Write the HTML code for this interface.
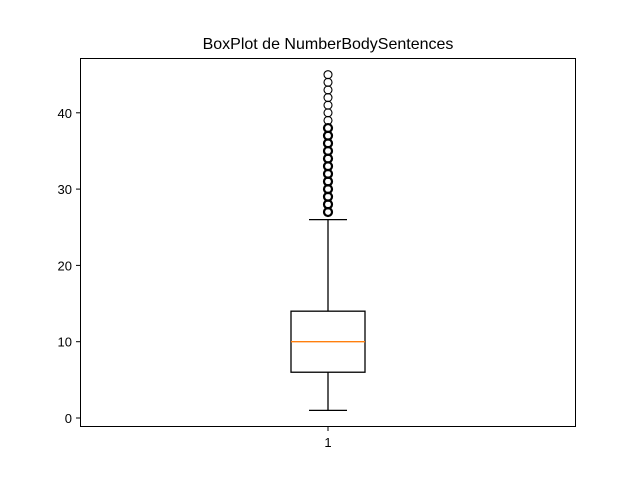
<!DOCTYPE html>
<html><head><meta charset="utf-8"><style>body{margin:0;background:#fff}svg{display:block;font-family:"Liberation Sans","DejaVu Sans",sans-serif}</style></head>
<body>
<svg width="640" height="480">
<rect x="0" y="0" width="640" height="480" fill="#fff"/>
<text x="328" y="49" text-anchor="middle" font-size="16">BoxPlot de NumberBodySentences</text>
<g id="plot"></g>
<rect x="80.5" y="58.5" width="495" height="368" fill="none" stroke="#000" stroke-width="1"/>
</svg>
<script>
const categories=["1"];
const whiskerLow=[1];
const q1=[6];
const median=[10];
const q3=[14];
const whiskerHigh=[26];
const fliers=[27,28,29,30,31,32,33,34,35,36,37,38,39,40,41,42,43,44,45];
const flierCounts=[9,8,8,8,7,7,6,6,6,5,5,4,3,1,1,1,1,1,1];
const yTicks=[0,10,20,30,40];
const NS="http://www.w3.org/2000/svg";
const g=document.getElementById('plot');
function y(v){return 418-7.63*v;}
function x(i){return 328+i*100;}
function mk(t,a){const e=document.createElementNS(NS,t);for(const k in a)e.setAttribute(k,a[k]);g.appendChild(e);return e;}
yTicks.forEach(v=>{
 const l=mk('line',{x1:76,x2:80,y1:y(v),y2:y(v),stroke:'#000'});
 
 
 const t=mk('text',{x:72,y:y(v)+5,'text-anchor':'end','font-size':'13'});t.textContent=v;
 
 
});
categories.forEach((c,i)=>{
 const cx=x(i);
 const tk=mk('line',{x1:cx,x2:cx,y1:427,y2:431,stroke:'#000'});
 
 
 const t=mk('text',{x:cx,y:447,'text-anchor':'middle','font-size':'13'});t.textContent=c;
 
 
 const b=mk('rect',{x:cx-37,y:y(q3[i]),width:74,height:y(q1[i])-y(q3[i]),fill:'none',stroke:'#000','stroke-width':1.3});
 
 
 const w1=mk('line',{x1:cx,x2:cx,y1:y(q1[i]),y2:y(whiskerLow[i]),stroke:'#000','stroke-width':1.3});
 
 
 const w2=mk('line',{x1:cx,x2:cx,y1:y(q3[i]),y2:y(whiskerHigh[i]),stroke:'#000','stroke-width':1.3});
 
 
 const c1=mk('line',{x1:cx-19,x2:cx+19,y1:y(whiskerLow[i]),y2:y(whiskerLow[i]),stroke:'#000','stroke-width':1.3});
 
 
 const c2=mk('line',{x1:cx-19,x2:cx+19,y1:y(whiskerHigh[i]),y2:y(whiskerHigh[i]),stroke:'#000','stroke-width':1.3});
 
 
 const m=mk('line',{x1:cx-37,x2:cx+37,y1:y(median[i]),y2:y(median[i]),stroke:'#ff7f0e','stroke-width':1.3});
 
 
 fliers.forEach((f,k)=>{
  const sw=flierCounts[k]>3?2.2:1.1;
  const p=mk('circle',{cx:cx,cy:y(f),r:4,fill:'none',stroke:'#000','stroke-width':sw});
  
  
 });
});
</script>
</body></html>
